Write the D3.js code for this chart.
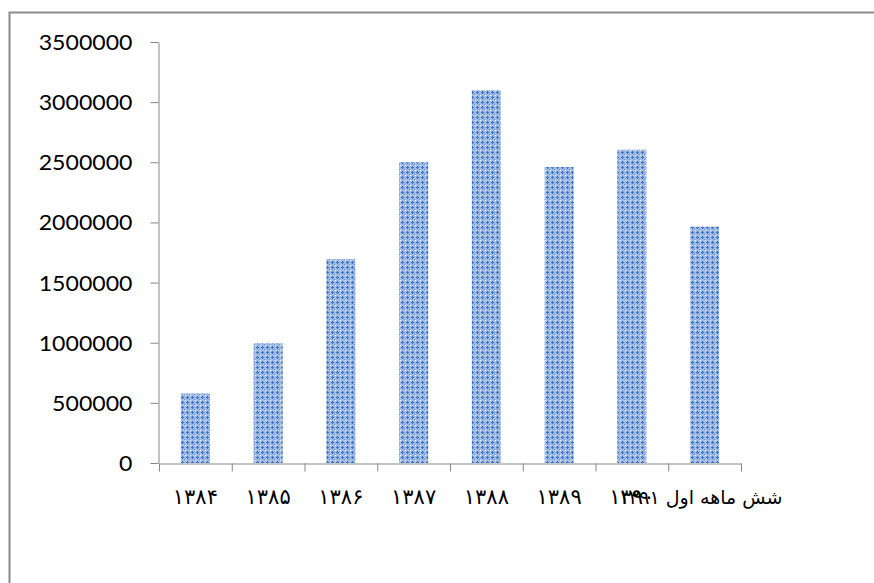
<!DOCTYPE html>
<html>
<head>
<meta charset="utf-8">
<script src="https://cdn.jsdelivr.net/npm/d3@7"></script>
<style>
  body { margin: 0; background: #fff; }
  svg { display: block; }
  .axis path, .axis line { stroke: #868686; }
  .ylab text { font-family: Lato, "Open Sans", sans-serif; font-size: 21px; fill: #000; }
  .xlab text { font-family: "DejaVu Sans", sans-serif; font-size: 21px; fill: #000; }
</style>
</head>
<body>
<script>
// years (Persian calendar) and the values
const categories = ["۱۳۸۴", "۱۳۸۵", "۱۳۸۶", "۱۳۸۷", "۱۳۸۸", "۱۳۸۹", "۱۳۹۰", "شش ماهه اول ۱۳۹۱"]
const values = [578000, 995000, 1695000, 2500000, 3100000, 2460000, 2605000, 1965000]
const yTicks = [0, 500000, 1000000, 1500000, 2000000, 2500000, 3000000, 3500000]

const W = 874, H = 583
const m = {left: 159, top: 42, right: 133, bottom: 120}

const svg = d3.select("body").append("svg")
  .attr("width", W).attr("height", H)

// chart frame, only top & left edges visible in the crop
svg.append("rect")
  .attr("x", 9.5).attr("y", 12.5)
  .attr("width", 1000).attr("height", 1000)
  .attr("fill", "none").attr("stroke", "#8a8a8a").attr("stroke-width", 2)

// dotted fill like excel's pattern fill
const defs = svg.append("defs")
const pat = defs.append("pattern")
  .attr("id", "dots").attr("patternUnits", "userSpaceOnUse")
  .attr("width", 5).attr("height", 5)
pat.append("rect").attr("width", 5).attr("height", 5).attr("fill", "#9ebae5")
pat.append("rect").attr("x", 2).attr("y", 1).attr("width", 1).attr("height", 3).attr("fill", "#3f74c0")
pat.append("rect").attr("x", 1).attr("y", 2).attr("width", 3).attr("height", 1).attr("fill", "#3f74c0")
pat.append("rect").attr("x", 0).attr("y", 0).attr("width", 1).attr("height", 1).attr("fill", "#ffffff")
pat.append("rect").attr("x", 4).attr("y", 4).attr("width", 1).attr("height", 1).attr("fill", "#6790d0")

const x = d3.scaleBand()
  .domain(d3.range(values.length))
  .range([m.left, W - m.right])
  .paddingInner(0.6).paddingOuter(0.3)

const y = d3.scaleLinear()
  .domain([0, 3500000])
  .range([463, m.top])

svg.append("g").selectAll("rect")
  .data(values)
  .enter()
  .append("rect")
  .attr("x", (d, i) => x(i))
  .attr("width", x.bandwidth())
  .attr("y", d => y(d))
  .attr("height", d => y(0) - y(d))
  .attr("fill", "url(#dots)")

// y axis
const yAxis = svg.append("g")
  .attr("class", "axis ylab")
  .attr("transform", "translate(" + (m.left - 0.5) + ",0)")
  .call(d3.axisLeft(y).tickValues(yTicks).tickFormat(d3.format("d")).tickSize(8).tickSizeOuter(0).tickPadding(18))
yAxis.selectAll("text")
  .attr("dy", "0.36em")
  .attr("textLength", d => String(d).length * 13.4)
  .attr("lengthAdjust", "spacingAndGlyphs")

// x axis: ticks sit on category boundaries
const xb = d3.scaleLinear().domain([0, values.length]).range([m.left, W - m.right])
svg.append("g")
  .attr("class", "axis")
  .attr("transform", "translate(0," + (y(0) + 0.5) + ")")
  .call(d3.axisBottom(xb).ticks(values.length).tickFormat("").tickSize(8).tickSizeOuter(0))

svg.append("g").attr("class", "xlab")
  .selectAll("text")
  .data(categories)
  .enter()
  .append("text")
  .attr("x", (d, i) => x(i) + x.bandwidth() / 2 - (d.length > 4 ? 4 : 0))
  .attr("y", 504)
  .attr("text-anchor", "middle")
  .attr("letter-spacing", d => d.length === 4 ? 3 : 0)
  .style("font-size", d => d.length > 4 ? "19px" : null)
  .text(d => d)
</script>
</body>
</html>
